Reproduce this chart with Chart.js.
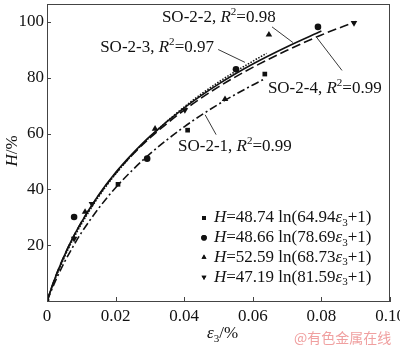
<!DOCTYPE html>
<html>
<head>
<meta charset="utf-8">
<script src="https://cdn.jsdelivr.net/npm/chart.js@4.4.1/dist/chart.umd.min.js"></script>
<style>
  html, body { margin: 0; padding: 0; background: #fff; }
  #wrap { width: 400px; height: 349px; }
</style>
</head>
<body>
<div id="wrap"><canvas id="chart"></canvas></div>
<script>
"use strict";

// fit coefficients H = a ln(b*eps + 1)
const seriesNames = ['SO-2-1', 'SO-2-2', 'SO-2-3', 'SO-2-4'];
const coefA = [48.74, 48.66, 52.59, 47.19];
const coefB = [64.94, 78.69, 68.73, 81.59];
const rSquared = ['0.99', '0.98', '0.97', '0.99'];

// measured points
const pts21 = [[0, 0], [0.0207, 41.8], [0.0410, 61.2], [0.0635, 81.3]];
const pts22 = [[0.0079, 30.1], [0.0292, 51.0], [0.0551, 83.0], [0.0790, 98.2]];
const pts23 = [[0.0111, 31.9], [0.0315, 61.7], [0.0519, 72.3], [0.0647, 95.4]];
const pts24 = [[0.0079, 22.3], [0.0131, 34.8], [0.0402, 68.4], [0.0895, 99.6]];

// fitted curves
const fitX21 = [0, 0.0025, 0.005, 0.0075, 0.01, 0.015, 0.02, 0.025, 0.03, 0.04, 0.05, 0.06, 0.063];
const fitY21 = [0, 7.3, 13.7, 19.3, 24.4, 33.1, 40.6, 47.0, 52.7, 62.4, 70.5, 77.4, 79.3];
const fitX22 = [0, 0.0025, 0.005, 0.0075, 0.01, 0.015, 0.02, 0.025, 0.03, 0.04, 0.05, 0.06, 0.07, 0.08];
const fitY22 = [0, 8.7, 16.1, 22.6, 28.2, 37.9, 46.0, 52.9, 59.0, 69.2, 77.7, 84.9, 91.1, 96.7];
const fitX23 = [0, 0.0025, 0.005, 0.0075, 0.01, 0.015, 0.02, 0.025, 0.03, 0.04, 0.05, 0.06, 0.064];
const fitY23 = [0, 8.3, 15.5, 21.9, 27.5, 37.3, 45.5, 52.6, 58.8, 69.5, 78.4, 85.9, 88.7];
const fitX24 = [0, 0.0025, 0.005, 0.0075, 0.01, 0.015, 0.02, 0.025, 0.03, 0.04, 0.05, 0.06, 0.07, 0.08, 0.09];
const fitY24 = [0, 8.8, 16.1, 22.5, 28.2, 37.7, 45.7, 52.5, 58.4, 68.4, 76.7, 83.7, 89.8, 95.3, 100.1];

const xTicks = [0, 0.02, 0.04, 0.06, 0.08, 0.10];
const yTicks = [0, 20, 40, 60, 80, 100];

const SERIF = '"Liberation Serif", "Times New Roman", serif';

function toXY(xs, ys) {
    return xs.map((x, i) => ({ x: x, y: ys[i] }));
}
function toPts(arr) {
    return arr.map(p => ({ x: p[0], y: p[1] }));
}

const markerStyle = [
    { pointStyle: 'rect', radius: 3.3, rotation: 0 },
    { pointStyle: 'circle', radius: 3.3, rotation: 0 },
    { pointStyle: 'triangle', radius: 3.8, rotation: 0 },
    { pointStyle: 'triangle', radius: 3.8, rotation: 180 }
];
const dashes = [[8, 3, 2, 3], [], [1.5, 1.5], [9, 4]];

const fitSets = [[fitX21, fitY21], [fitX22, fitY22], [fitX23, fitY23], [fitX24, fitY24]];
const ptSets = [pts21, pts22, pts23, pts24];

const datasets = [];
fitSets.forEach((f, i) => {
    datasets.push({
        label: seriesNames[i] + ' fit',
        data: toXY(f[0], f[1]),
        showLine: true,
        borderColor: '#111',
        borderWidth: 1.6,
        borderDash: dashes[i],
        pointRadius: 0,
        cubicInterpolationMode: 'monotone',
        fill: false
    });
});
ptSets.forEach((p, i) => {
    datasets.push({
        label: seriesNames[i],
        data: toPts(p),
        showLine: false,
        pointStyle: markerStyle[i].pointStyle,
        pointRadius: markerStyle[i].radius,
        pointRotation: markerStyle[i].rotation,
        backgroundColor: '#111',
        borderColor: '#111',
        borderWidth: 0
    });
});

// annotation labels (data coordinates): text left/middle, leader line from -> to
const labels = [
    { s: 0, x: 0.0382, y: 55.3, from: [0.0461, 66.7], to: [0.0493, 59.6] },
    { s: 1, x: 0.0335, y: 101.4, from: [0.0656, 98.2], to: [0.0717, 92.6] },
    { s: 2, x: 0.0155, y: 90.8, from: [0.0499, 90.1], to: [0.0577, 85.5] },
    { s: 3, x: 0.0644, y: 76.2, from: [0.0787, 94.3], to: [0.0860, 82.6] }
];

function font(style, size) {
    return (style === 'i' ? 'italic ' : '') + size + 'px ' + SERIF;
}

function drawRich(ctx, parts, x, y, size) {
    let cx = x;
    ctx.textBaseline = 'middle';
    ctx.textAlign = 'left';
    parts.forEach(p => {
        const t = p[0], st = p[1];
        let sz = size, dy = 0, f = 'n';
        if (st === 'i') f = 'i';
        if (st === 'sub') { sz = size * 0.65; dy = size * 0.3; }
        if (st === 'sup') { sz = size * 0.65; dy = -size * 0.33; }
        ctx.font = font(f, sz);
        ctx.fillText(t, cx, y + dy);
        cx += ctx.measureText(t).width;
    });
    return cx - x;
}

const decorPlugin = {
    id: 'decor',
    afterDraw(chart) {
        const ctx = chart.ctx;
        const a = chart.chartArea;
        const xs = chart.scales.x, ys = chart.scales.y;
        ctx.save();

        // frame
        ctx.strokeStyle = '#444';
        ctx.lineWidth = 1;
        ctx.strokeRect(a.left + 0.5, a.top + 0.5, a.right - a.left - 1, a.bottom - a.top);

        // inward ticks
        xTicks.forEach(v => {
            const px = Math.round(xs.getPixelForValue(v)) + 0.5;
            ctx.beginPath();
            ctx.moveTo(px, a.bottom);
            ctx.lineTo(px, a.bottom - 4);
            ctx.stroke();
        });
        yTicks.forEach(v => {
            const py = Math.round(ys.getPixelForValue(v)) + 0.5;
            ctx.beginPath();
            ctx.moveTo(a.left, py);
            ctx.lineTo(a.left + 4, py);
            ctx.stroke();
        });

        ctx.fillStyle = '#111';
        // annotation labels and leaders
        labels.forEach(l => {
            ctx.strokeStyle = '#222';
            ctx.lineWidth = 0.9;
            ctx.beginPath();
            ctx.moveTo(xs.getPixelForValue(l.from[0]), ys.getPixelForValue(l.from[1]));
            ctx.lineTo(xs.getPixelForValue(l.to[0]), ys.getPixelForValue(l.to[1]));
            ctx.stroke();
            drawRich(ctx, [[seriesNames[l.s] + ', ', 'n'], ['R', 'i'], ['2', 'sup'], ['=' + rSquared[l.s], 'n']],
                xs.getPixelForValue(l.x), ys.getPixelForValue(l.y), 17);
        });

        // legend
        const lx = 204, ly0 = 218, dy = 19.7;
        coefA.forEach((A, i) => {
            const y = ly0 + i * dy;
            const m = markerStyle[i];
            Chart.helpers.drawPoint(ctx, {
                pointStyle: m.pointStyle, radius: 2.8, rotation: m.rotation, borderWidth: 0
            }, lx, y);
            ctx.fill();
            drawRich(ctx, [['H', 'i'], ['=' + A.toFixed(2) + ' ln(' + coefB[i].toFixed(2), 'n'],
                ['ε', 'i'], ['3', 'sub'], ['+1)', 'n']], 214, y, 17);
        });

        // axis titles
        ctx.save();
        ctx.translate(13, 151);
        ctx.rotate(-Math.PI / 2);
        ctx.font = font('i', 17);
        const w1 = ctx.measureText('H').width;
        ctx.font = font('n', 17);
        const wh = w1 + ctx.measureText('/%').width;
        drawRich(ctx, [['H', 'i'], ['/%', 'n']], -wh / 2, 0, 17);
        ctx.restore();

        drawRich(ctx, [['ε', 'i'], ['3', 'sub'], ['/%', 'n']], 207, 334, 17);

        // watermark
        ctx.fillStyle = '#f0a0a0';
        ctx.font = '14px "Noto Sans CJK SC", sans-serif';
        ctx.textBaseline = 'middle';
        ctx.textAlign = 'left';
        ctx.fillText('@有色金属在线', 294, 338);

        ctx.restore();
    }
};

new Chart(document.getElementById('chart').getContext('2d'), {
    type: 'scatter',
    data: { datasets: datasets },
    options: {
        responsive: true,
        maintainAspectRatio: false,
        animation: false,
        layout: { padding: { top: 1, right: 10, left: 0, bottom: 0 } },
        plugins: {
            legend: { display: false },
            tooltip: { enabled: false }
        },
        scales: {
            x: {
                type: 'linear',
                min: 0,
                max: 0.1,
                afterFit(scale) {
                    scale.height = 48;
                    scale.paddingLeft = 0;
                    scale.paddingRight = 0;
                },
                afterBuildTicks(scale) { scale.ticks = xTicks.map(v => ({ value: v })); },
                grid: { display: false, drawTicks: false },
                border: { display: true, color: '#444' },
                ticks: {
                    color: '#111',
                    padding: 5,
                    font: { family: SERIF, size: 17 },
                    maxRotation: 0,
                    callback: v => (v === 0 ? '0' : v.toFixed(2))
                }
            },
            y: {
                type: 'linear',
                min: 0,
                max: 106.4,
                afterFit(scale) {
                    scale.width = 47;
                    scale.paddingTop = 0;
                    scale.paddingBottom = 0;
                },
                afterBuildTicks(scale) { scale.ticks = yTicks.map(v => ({ value: v })); },
                grid: { display: false, drawTicks: false },
                border: { display: true, color: '#444' },
                ticks: {
                    color: '#111',
                    padding: 3,
                    font: { family: SERIF, size: 17 },
                    callback: v => (v === 0 ? '' : String(v))
                }
            }
        }
    },
    plugins: [decorPlugin]
});
</script>
</body>
</html>
